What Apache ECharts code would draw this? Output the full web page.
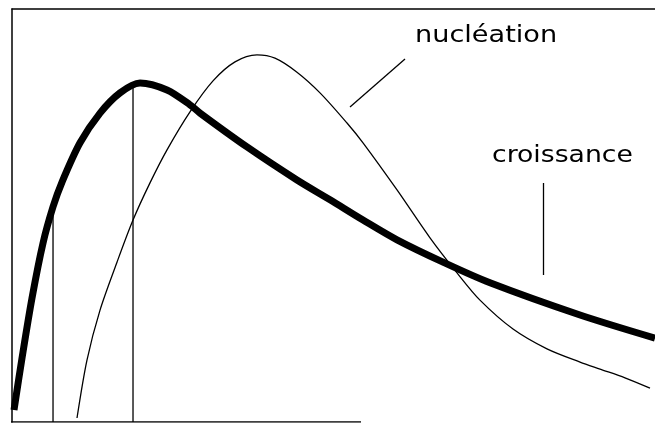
<!DOCTYPE html>
<html>
<head>
<meta charset="utf-8">
<script src="https://cdn.jsdelivr.net/npm/echarts@6/dist/echarts.min.js"></script>
<style>
  html, body { margin: 0; padding: 0; background: #fff; }
  #chart { width: 655px; height: 425px; }
</style>
</head>
<body>
<div id="chart"></div>
<script>
// Growth rate (thick) and nucleation rate (thin) versus undercooling, arbitrary units 0-100
const croissance = [
  [0.31, 2.9], [1.56, 15.5], [3.11, 30.0], [4.82, 43.3], [6.38, 52.1],
  [7.78, 58.1], [10.58, 67.6], [13.69, 74.8], [16.8, 79.7], [19.91, 82.1],
  [24.11, 80.4], [27.68, 76.8], [29.24, 74.8], [36.55, 66.6], [44.32, 58.6],
  [49.46, 53.8], [54.59, 48.9], [59.88, 44.1], [67.03, 38.7], [74.34, 33.7],
  [88.34, 25.9], [100, 20.3]
];
const nucleation = [
  [10.11, 0.97], [11.66, 15.0], [13.69, 27.1], [16.33, 38.7], [18.82, 48.9],
  [21.46, 57.9], [24.11, 65.9], [27.68, 75.1], [31.26, 82.6], [34.68, 87.2],
  [38.1, 88.9], [40.9, 88.1], [44.32, 84.7], [47.9, 79.7], [52.1, 72.4],
  [54.59, 67.6], [59.88, 56.2], [65.01, 44.6], [69.21, 36.1], [72.78, 29.5],
  [77.92, 22.5], [83.2, 17.7], [88.34, 14.5], [91.45, 12.8], [95.33, 10.7],
  [99.22, 8.2]
];
// Vertical markers: [x, height reached on the growth curve]
const markers = [[6.38, 53.0], [18.82, 80.9]];
// Baseline segment drawn under the left part of the plot
const baseline = [[-0.47, 0], [54.28, 0]];

const labelNucleation = 'nucléation';
const labelCroissance = 'croissance';

const chart = echarts.init(document.getElementById('chart'), null, { renderer: 'canvas' });

const markerSeries = markers.map(m => ({
  type: 'line',
  data: [[m[0], 0], [m[0], m[1]]],
  symbol: 'none',
  lineStyle: { color: '#000', width: 1.3 },
  silent: true
}));

const labelFont = '23px "DejaVu Sans"';

chart.setOption({
  animation: false,
  backgroundColor: '#fff',
  grid: { left: 12, top: 9, right: 0, bottom: 3, containLabel: false },
  xAxis: [
    { type: 'value', min: 0, max: 100, position: 'bottom',
      axisLine: { show: false }, axisTick: { show: false },
      axisLabel: { show: false }, splitLine: { show: false } },
    { type: 'value', min: 0, max: 100, position: 'top',
      axisLine: { show: true, lineStyle: { color: '#000', width: 1.5 } },
      axisTick: { show: false }, axisLabel: { show: false }, splitLine: { show: false } }
  ],
  yAxis: {
    type: 'value', min: 0, max: 100,
    axisLine: { show: true, lineStyle: { color: '#000', width: 1.5 } },
    axisTick: { show: false }, axisLabel: { show: false }, splitLine: { show: false }
  },
  series: [
    {
      type: 'line', data: baseline, symbol: 'none',
      lineStyle: { color: '#000', width: 1.5 }, silent: true
    },
    ...markerSeries,
    {
      name: labelNucleation, type: 'line', data: nucleation, symbol: 'none',
      smooth: 0.3, lineStyle: { color: '#000', width: 1.3 }
    },
    {
      name: labelCroissance, type: 'line', data: croissance, symbol: 'none',
      smooth: 0.3,
      lineStyle: { color: '#000', width: 7, cap: 'butt', join: 'round' }
    }
  ],
  graphic: [
    { type: 'text', x: 415, y: 25, scaleX: 1.18,
      style: { text: labelNucleation, font: labelFont, fill: '#000' } },
    { type: 'line', shape: { x1: 405, y1: 59, x2: 350, y2: 107 },
      style: { stroke: '#000', lineWidth: 1.3 } },
    { type: 'text', x: 492, y: 145, scaleX: 1.16,
      style: { text: labelCroissance, font: labelFont, fill: '#000' } },
    { type: 'line', shape: { x1: 543.5, y1: 183, x2: 543.5, y2: 275 },
      style: { stroke: '#000', lineWidth: 1.3 } }
  ]
});
</script>
</body>
</html>
